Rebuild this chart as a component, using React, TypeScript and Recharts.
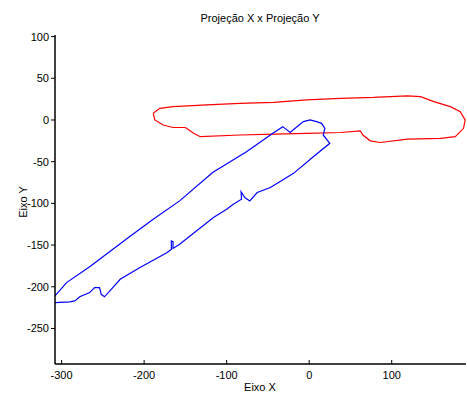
import React from "react";
import { LineChart, Line, XAxis, YAxis } from "recharts";

const blueX = [-308, -290, -284, -278, -266, -260, -254, -252, -248, -229, -205, -172, -167, -167, -165, -165, -157, -116, -100, -92, -82, -82.5, -78, -72, -63, -47, -19, 5, 25, 17, 19, 15, 9, 1, -7, -17, -23, -32, -44, -76, -117, -157, -189, -219, -266, -294, -308];
const blueY = [-219, -218, -217, -212, -207, -201, -201, -209, -212, -191, -177, -159, -155, -145, -146, -154, -149, -117, -107, -101, -95, -86, -93, -97, -87, -81, -64, -44, -28, -18, -10, -4, -2, 0, -2, -10, -15, -8, -16, -38, -63, -97, -119, -141, -176, -195, -211];

const redX = [-189, -181, -165, -124, -84, -43, -3, 38, 78, 119, 135, 151, 171, 183, 189, 187, 177, 159, 119, 86, 74, 65, 62, 38, -3, -43, -84, -132, -140, -150, -165, -177, -187, -189];
const redY = [8, 14, 16, 18, 20, 21, 24, 26, 27, 29, 28, 22, 16, 10, 0, -10, -20, -22, -23, -27, -25, -18, -13, -15, -16, -17, -18, -20, -16, -9, -9, -6, 0, 8];

const xTicks = [-300, -200, -100, 0, 100];
const yTicks = [100, 50, 0, -50, -100, -150, -200, -250];
const xDomain = [-308, 190];
const yDomain = [-292.6, 101.9];

const blueData = blueX.map((x, i) => ({ x, y: blueY[i] }));
const redData = redX.map((x, i) => ({ x, y: redY[i] }));

const FONT = "'Liberation Sans', Arial, sans-serif";

const BottomTick = (p: any) => (
  <g>
    <line x1={p.x} x2={p.x} y1={p.y} y2={p.y - 4} stroke="#000" strokeWidth={1} />
    <text x={p.x} y={p.y + 15} textAnchor="middle" fontSize={11} fontFamily={FONT} fill="#000">
      {p.payload.value}
    </text>
  </g>
);
const TopTick = (p: any) => (
  <line x1={p.x} x2={p.x} y1={p.y} y2={p.y + 4} stroke="#000" strokeWidth={1} />
);
const LeftTick = (p: any) => (
  <g>
    <line x1={p.x - 4} x2={p.x} y1={p.y} y2={p.y} stroke="#000" strokeWidth={1} />
    <text x={p.x - 6} y={p.y + 4} textAnchor="end" fontSize={11} fontFamily={FONT} fill="#000">
      {p.payload.value}
    </text>
  </g>
);
const RightTick = (p: any) => (
  <line x1={p.x - 4} x2={p.x} y1={p.y} y2={p.y} stroke="#000" strokeWidth={1} />
);

export default function App() {
  return (
    <div style={{ position: "absolute", left: 0, top: 0, width: 467, height: 394, background: "#fff", overflow: "hidden" }}>
      <LineChart width={467} height={394} margin={{ top: 35, right: 1, bottom: 0, left: 0 }}>
        <XAxis
          dataKey="x"
          type="number"
          domain={xDomain}
          ticks={xTicks}
          allowDataOverflow
          height={30}
          tickSize={0}
          tickMargin={0}
          tickLine={false}
          tick={BottomTick}
          axisLine={{ stroke: "#000", strokeWidth: 1.5 }}
        />
        <XAxis
          xAxisId="top"
          orientation="top"
          dataKey="x"
          type="number"
          domain={xDomain}
          ticks={xTicks}
          allowDataOverflow
          height={0}
          tickSize={0}
          tickMargin={0}
          tickLine={false}
          tick={TopTick}
          axisLine={{ stroke: "#000", strokeWidth: 1.5 }}
        />
        <YAxis
          dataKey="y"
          type="number"
          domain={yDomain}
          ticks={yTicks}
          allowDataOverflow
          width={55}
          tickSize={0}
          tickMargin={0}
          tickLine={false}
          tick={LeftTick}
          axisLine={{ stroke: "#000", strokeWidth: 1.5 }}
        />
        <YAxis
          yAxisId="right"
          orientation="right"
          type="number"
          domain={yDomain}
          ticks={yTicks}
          allowDataOverflow
          width={0}
          tickSize={0}
          tickMargin={0}
          tickLine={false}
          tick={RightTick}
          axisLine={{ stroke: "#000", strokeWidth: 1.5 }}
        />
        <Line data={redData} dataKey="y" stroke="#ff0000" strokeWidth={1.2} dot={false} isAnimationActive={false} type="linear" />
        <Line data={blueData} dataKey="y" stroke="#0000ff" strokeWidth={1.2} dot={false} isAnimationActive={false} type="linear" />
      </LineChart>
      <svg width={467} height={394} style={{ position: "absolute", left: 0, top: 0, pointerEvents: "none" }}>
        <text x={260} y={22} textAnchor="middle" fontSize={11} fontFamily={FONT} fill="#000">
          Projeção X x Projeção Y
        </text>
        <text x={260} y={391} textAnchor="middle" fontSize={11} fontFamily={FONT} fill="#000">
          Eixo X
        </text>
        <text x={24} y={202} textAnchor="middle" fontSize={11} fontFamily={FONT} fill="#000" transform="rotate(-90 24 202)" dominantBaseline="middle">
          Eixo Y
        </text>
      </svg>
    </div>
  );
}
